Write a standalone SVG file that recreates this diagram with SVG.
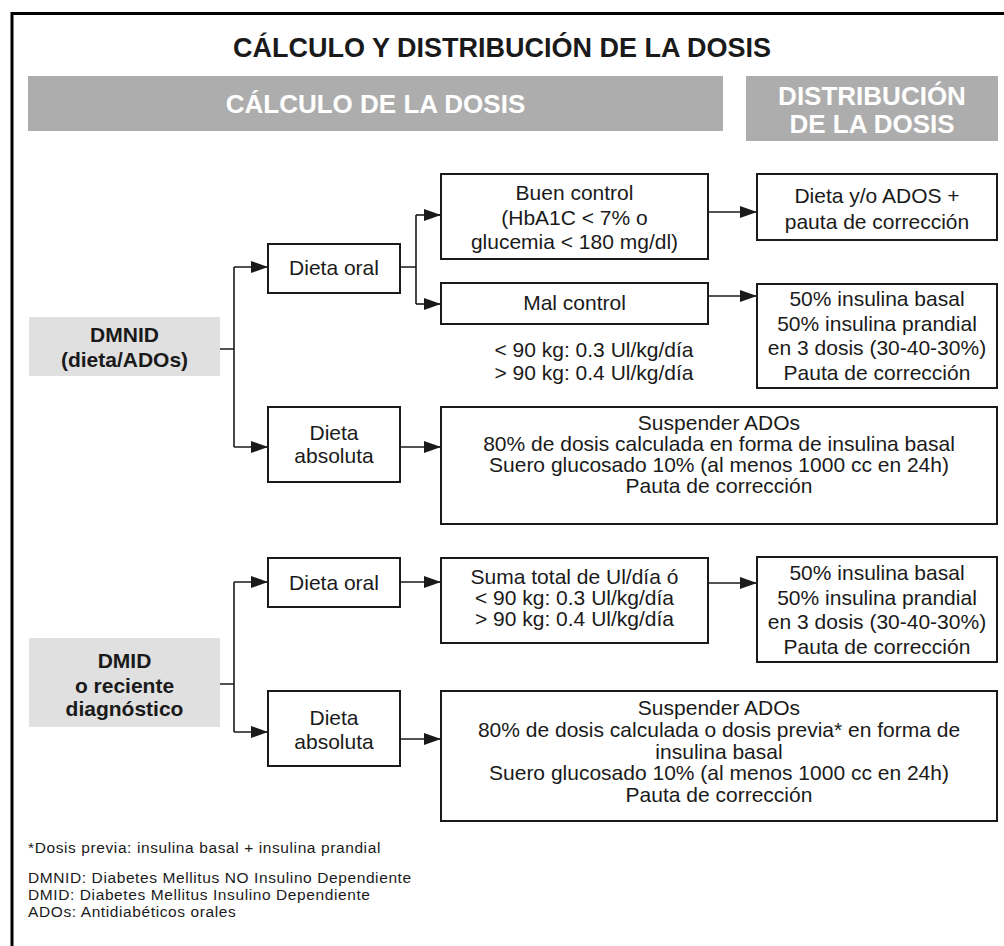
<svg xmlns="http://www.w3.org/2000/svg" width="1004" height="946" viewBox="0 0 1004 946">
<defs>
<style>
text{font-family:"Liberation Sans",Arial,sans-serif;fill:#1a1a1a;text-anchor:middle}
.t{font-size:21px}
.b{font-weight:bold}
.h{font-size:26px;font-weight:bold}
.ti{font-size:27px;font-weight:bold}
.w{fill:#fff}
.f{font-size:15.5px;letter-spacing:0.6px;text-anchor:start}
.box{fill:#fff;stroke:#1a1a1a;stroke-width:2}
.lab{fill:#e0e0e0}
.hdr{fill:#adadad}
.c{fill:none;stroke:#1a1a1a;stroke-width:1.6}
.a{marker-end:url(#ah)}
</style>
<marker id="ah" markerUnits="userSpaceOnUse" markerWidth="18" markerHeight="12" refX="17" refY="6" orient="auto">
<path d="M0,0 L17,6 L0,12 z" fill="#1a1a1a"/>
</marker>
</defs>
<rect width="1004" height="946" fill="#fff"/>
<path d="M12,946 V13.5 H1004" fill="none" stroke="#000" stroke-width="3"/>
<g id="title"><text x="502" y="57" class="ti">CÁLCULO Y DISTRIBUCIÓN DE LA DOSIS</text></g>
<g id="hdr-calculo"><rect x="28" y="76" width="695" height="55" class="hdr"/><text x="375.5" y="113" class="h w">CÁLCULO DE LA DOSIS</text></g>
<g id="hdr-distribucion"><rect x="746" y="76" width="252" height="65" class="hdr"/><text x="872" y="105" class="h w">DISTRIBUCIÓN</text><text x="872" y="133" class="h w">DE LA DOSIS</text></g>

<g id="connectors">
<path class="c" d="M220,349 H234 M234,267 V447 M400,267 H416 M416,215 V304"/>
<path class="c a" d="M234,267 H268"/>
<path class="c a" d="M234,447 H268"/>
<path class="c a" d="M416,215 H441"/>
<path class="c a" d="M416,304 H441"/>
<path class="c a" d="M708,212 H757"/>
<path class="c a" d="M708,296 H757"/>
<path class="c a" d="M400,447 H441"/>
<path class="c" d="M220,684 H234 M234,582 V732"/>
<path class="c a" d="M234,582 H268"/>
<path class="c a" d="M234,732 H268"/>
<path class="c a" d="M400,582 H441"/>
<path class="c a" d="M708,583 H757"/>
<path class="c a" d="M400,739 H441"/>
</g>

<g id="dmnid"><rect x="29" y="317" width="191" height="59" class="lab"/><text x="124.5" y="342" class="t b">DMNID</text><text x="124.5" y="367" class="t b">(dieta/ADOs)</text></g>
<g id="dieta-oral-1"><rect x="268" y="244" width="132" height="49" class="box"/><text x="334" y="275" class="t">Dieta oral</text></g>
<g id="buen-control"><rect x="441" y="174" width="267" height="85" class="box"/><text x="574.5" y="200" class="t">Buen control</text><text x="574.5" y="224.5" class="t">(HbA1C &lt; 7% o</text><text x="574.5" y="249" class="t">glucemia &lt; 180 mg/dl)</text></g>
<g id="mal-control"><rect x="441" y="283" width="267" height="41" class="box"/><text x="574.5" y="310" class="t">Mal control</text></g>
<g id="kg-1"><text x="594" y="357" class="t">&lt; 90 kg: 0.3 Ul/kg/día</text><text x="594" y="380" class="t">&gt; 90 kg: 0.4 Ul/kg/día</text></g>
<g id="dieta-ados"><rect x="757" y="174" width="240" height="66" class="box"/><text x="877" y="203" class="t">Dieta y/o ADOS +</text><text x="877" y="229" class="t">pauta de corrección</text></g>
<g id="dist-1"><rect x="757" y="284" width="240" height="104" class="box"/><text x="877" y="306" class="t">50% insulina basal</text><text x="877" y="330.5" class="t">50% insulina prandial</text><text x="877" y="355" class="t">en 3 dosis (30-40-30%)</text><text x="877" y="379.5" class="t">Pauta de corrección</text></g>
<g id="dieta-absoluta-1"><rect x="268" y="407" width="132" height="75" class="box"/><text x="334" y="440" class="t">Dieta</text><text x="334" y="463" class="t">absoluta</text></g>
<g id="suspender-1"><rect x="441" y="407" width="556" height="117" class="box"/><text x="719" y="430" class="t">Suspender ADOs</text><text x="719" y="451" class="t">80% de dosis calculada en forma de insulina basal</text><text x="719" y="472" class="t">Suero glucosado 10% (al menos 1000 cc en 24h)</text><text x="719" y="493" class="t">Pauta de corrección</text></g>

<g id="dmid"><rect x="29" y="638" width="191" height="89" class="lab"/><text x="124.5" y="668" class="t b">DMID</text><text x="124.5" y="693" class="t b">o reciente</text><text x="124.5" y="716" class="t b">diagnóstico</text></g>
<g id="dieta-oral-2"><rect x="268" y="558" width="132" height="49" class="box"/><text x="334" y="589.5" class="t">Dieta oral</text></g>
<g id="suma"><rect x="441" y="558" width="267" height="85" class="box"/><text x="574.5" y="584" class="t">Suma total de Ul/día ó</text><text x="574.5" y="605" class="t">&lt; 90 kg: 0.3 Ul/kg/día</text><text x="574.5" y="626" class="t">&gt; 90 kg: 0.4 Ul/kg/día</text></g>
<g id="dist-2"><rect x="757" y="557" width="240" height="105" class="box"/><text x="877" y="580" class="t">50% insulina basal</text><text x="877" y="604.5" class="t">50% insulina prandial</text><text x="877" y="629" class="t">en 3 dosis (30-40-30%)</text><text x="877" y="653.5" class="t">Pauta de corrección</text></g>
<g id="dieta-absoluta-2"><rect x="268" y="691" width="132" height="75" class="box"/><text x="334" y="725" class="t">Dieta</text><text x="334" y="749" class="t">absoluta</text></g>
<g id="suspender-2"><rect x="441" y="691" width="556" height="130" class="box"/><text x="719" y="715" class="t">Suspender ADOs</text><text x="719" y="737" class="t">80% de dosis calculada o dosis previa* en forma de</text><text x="719" y="759" class="t">insulina basal</text><text x="719" y="780" class="t">Suero glucosado 10% (al menos 1000 cc en 24h)</text><text x="719" y="802" class="t">Pauta de corrección</text></g>

<g id="notes">
<text x="28" y="853" class="f">*Dosis previa: insulina basal + insulina prandial</text>
<text x="28" y="883" class="f">DMNID: Diabetes Mellitus NO Insulino Dependiente</text>
<text x="28" y="900" class="f">DMID: Diabetes Mellitus Insulino Dependiente</text>
<text x="28" y="917" class="f">ADOs: Antidiabéticos orales</text>
</g>
</svg>
